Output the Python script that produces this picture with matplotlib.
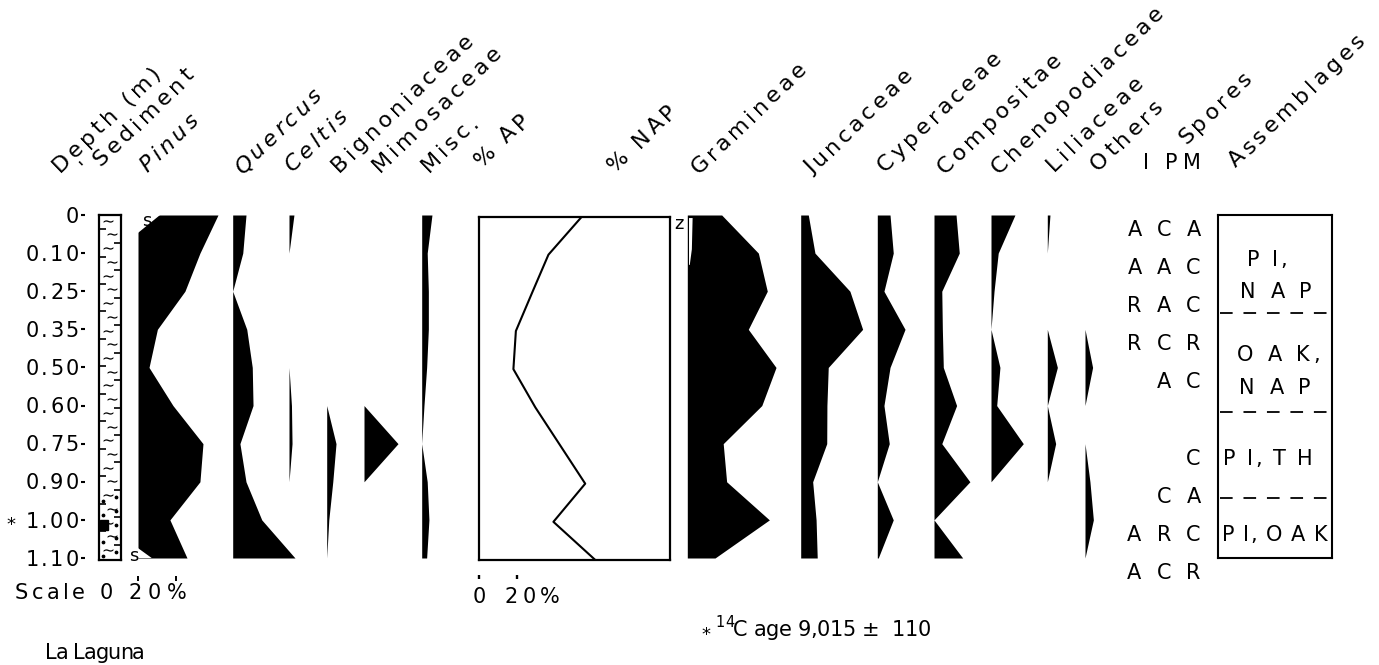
import matplotlib
matplotlib.use("Agg")
import matplotlib.pyplot as plt
import numpy as np
from matplotlib.font_manager import FontProperties, findfont, get_font
from matplotlib.patches import Rectangle

W, H, DPI = 1379, 665, 100
FONT = "DejaVu Sans"
FS = 15
Y_TOP, Y_BOT = 215, 558      # pixel rows of the first and last sample
PX = 1.9                     # pixels per percent, same on every column

# ---------------------------------------------------------------- data
depth_labels = ["0", "0.10", "0.25", "0.35", "0.50", "0.60", "0.75", "0.90", "1.00", "1.10"]
pinus = [42.1, 32.6, 24.7, 10.2, 5.8, 18.4, 34.2, 32.6, 16.8, 25.8]
quercus = [7.0, 5.3, 0, 7.4, 10.3, 10.7, 3.8, 7.0, 15.3, 32.8]
celtis = [2.6, 0, 0, 0, 0, 1.3, 1.6, 0, 0, 0]
bignoniaceae = [0, 0, 0, 0, 0, 0, 4.9, 3.2, 1.1, 0]
mimosaceae = [0, 0, 0, 0, 0, 0, 17.9, 0, 0, 0]
misc = [5.4, 2.9, 3.5, 3.5, 2.6, 1.2, 0, 2.9, 3.8, 2.6]
ap = [53.9, 36.3, 27.7, 19.2, 17.9, 29.4, 42.5, 55.6, 38.9, 60.9]
gramineae = [18.1, 37.4, 42.1, 32.1, 46.7, 39.2, 18.9, 20.7, 43.2, 14.6]
juncaceae = [4.0, 7.5, 25.9, 32.6, 14.5, 13.8, 13.7, 6.3, 8.1, 8.7]
cyperaceae = [6.7, 8.4, 3.5, 14.6, 6.7, 3.5, 6.3, 0, 8.4, 0.5]
compositae = [11.6, 13.3, 4.1, 4.4, 4.9, 11.9, 4.1, 18.9, 0, 15.1]
chenopodiaceae = [12.6, 3.8, 1.6, 0, 4.7, 3.0, 17.0, 0, 0, 0]
liliaceae = [1.4, 0, 0, 0, 5.3, 0, 4.4, 0, 0, 0]
others = [0, 0, 0, 0, 4.0, 0, 0, 2.6, 4.4, 0]

spores = ["A C A", "A A C", "R A C", "R C R", "A C", "", "C", "C A", "A R C", "A C R"]
assemblage_bounds = [2.57, 5.17, 7.43]
assemblage_labels = ["P I,", "N A P", "O A K,", "N A P", "P I, T H", "P I, O A K"]
assemblage_pos = [1.13, 1.97, 3.62, 4.51, 6.35, 8.35]

# white gaps marked "s" (Pinus) and "z" (Gramineae): (percent, sample)
pinus_gap_top = ([0, 11.6, 0], [0, 0, 0.47])
pinus_gap_bot = ([0, 7.2, 0], [8.74, 9, 9])
gram_gap = ([0.9, 2.8, 2.4, 1.3, 0.9], [0.08, 0.08, 0.9, 1.31, 1.31])

scale_ticks = [0, 20]
samples = np.arange(len(depth_labels))

fig = plt.figure(figsize=(W / DPI, H / DPI), dpi=DPI)


# text with letter spacing, like the typeset original; x, y in image pixels
def spaced(x, y, s, size=FS, rot=0, track=4.0, ha="left", va="baseline",
           style="normal", width=None):
    prop = FontProperties(family=FONT, style=style)
    font = get_font(findfont(prop), hinting_factor=1)
    font.set_size(size, DPI)
    adv = [font.load_char(ord(c)).linearHoriAdvance / 65536 for c in s]
    if width is not None and len(s) > 1:
        track = (width - sum(adv)) / (len(s) - 1)
    total = sum(adv) + track * (len(s) - 1)
    th = np.radians(rot)
    X, Y = x, H - y
    if va == "center":
        Y -= 0.729 * size * DPI / 72 / 2
    d = -{"left": 0, "center": total / 2, "right": total}[ha]
    for c, a in zip(s, adv):
        if c != " ":
            fig.text((X + d * np.cos(th)) / W, (Y + d * np.sin(th)) / H, c,
                     fontsize=size, family=FONT, style=style, rotation=rot,
                     rotation_mode="anchor", ha="left", va="baseline")
        d += a + track


def column(left, width):
    ax = fig.add_axes([left / W, 1 - Y_BOT / H, width / W, (Y_BOT - Y_TOP) / H])
    ax.set_xlim(0, width / PX)
    ax.set_ylim(samples[-1], samples[0])
    ax.axis("off")
    return ax


# ---------------------------------------------------------------- sediment column
ax_sed = fig.add_axes([99 / W, 1 - 560 / H, 22 / W, (560 - Y_TOP) / H])
ax_sed.set_xlim(0, 1)
ax_sed.set_ylim(9.05, 0)
ax_sed.set_xticks([])
ax_sed.set_yticks([])
for sp in ax_sed.spines.values():
    sp.set_linewidth(1.6)
for k, r in enumerate(np.arange(0.15, 9.0, 0.36)):
    xs = 0.4 if k % 2 == 0 else 0.58
    ax_sed.scatter([xs], [r], marker="$\\sim$", s=50, color="black", lw=0)
    ax_sed.scatter([0.82 if k % 2 == 0 else 0.2], [r - 0.14], marker="_", s=14,
                   color="black", lw=1.2)
    if r > 7.0:
        ax_sed.scatter([0.2, 0.75], [r + 0.15, r + 0.05], s=3, color="black")
ax_sed.add_patch(Rectangle((0.05, 8.0), 0.36, 0.27, color="black"))
ax_sed.hlines(samples, -0.82, -0.62, transform=ax_sed.get_yaxis_transform(),
              clip_on=False, lw=1.5, color="black")

for i, lab in enumerate(depth_labels):
    y = H - ax_sed.transData.transform((0, samples[i]))[1]
    spaced(79, y, lab, ha="right", va="center", track=2.2)
spaced(6, 530, "*", size=13)

# ---------------------------------------------------------------- pollen columns
columns = [
    (pinus, 138), (quercus, 232.7), (celtis, 289), (bignoniaceae, 326.7),
    (mimosaceae, 364), (misc, 421.7), (gramineae, 687.3), (juncaceae, 800.7),
    (cyperaceae, 877.3), (compositae, 934), (chenopodiaceae, 991),
    (liliaceae, 1047.3), (others, 1085),
]
axes = []
for vals, left in columns:
    ax = column(left, 100)
    ax.fill_betweenx(samples, 0, vals, color="black", lw=0)
    axes.append(ax)

ax_pin, ax_gram = axes[0], axes[6]
ax_pin.fill(*pinus_gap_top, color="white", lw=0)
ax_pin.fill(*pinus_gap_bot, color="white", lw=0)
ax_gram.fill(*gram_gap, color="white", lw=0)
ax_pin.vlines(scale_ticks, -0.053, -0.066, transform=ax_pin.get_xaxis_transform(),
              clip_on=False, lw=1.4, color="black")
spaced(142, 226, "s", size=13)
spaced(129, 561, "s", size=13)
spaced(674, 229, "z", size=13)

# ---------------------------------------------------------------- % AP box
ax_ap = fig.add_axes([479.3 / W, 1 - 560 / H, 190.5 / W, (560 - 216.5) / H])
ax_ap.set_xlim(0, 100)
ax_ap.set_ylim(9, 0)
ax_ap.plot(ap, samples, color="black", lw=1.5)
ax_ap.set_xticks([])
ax_ap.set_yticks([])
for sp in ax_ap.spines.values():
    sp.set_linewidth(1.6)
ax_ap.vlines(scale_ticks, -0.045, -0.055, transform=ax_ap.get_xaxis_transform(),
             clip_on=False, lw=1.7, color="black")

# ---------------------------------------------------------------- assemblages
ax_as = fig.add_axes([1218 / W, 1 - Y_BOT / H, 114 / W, (Y_BOT - Y_TOP) / H])
ax_as.set_xlim(0, 1)
ax_as.set_ylim(9, 0)
ax_as.set_xticks([])
ax_as.set_yticks([])
for sp in ax_as.spines.values():
    sp.set_linewidth(1.5)
ax_as.hlines(assemblage_bounds, 0.02, 0.98, color="black", lw=1.3,
             linestyles=(0, (7, 6)))
as_center = [0.43, 0.51, 0.53, 0.5, 0.44, 0.5]
as_width = [40, 72, 84, 72, 90, 106]
for lab, pos, cx, wd in zip(assemblage_labels, assemblage_pos, as_center, as_width):
    X, Y = ax_as.transData.transform((cx, pos))
    spaced(X, H - Y, lab, ha="center", va="center", width=wd)

for i, s in enumerate(spores):
    if s:
        Y = ax_as.transData.transform((0, samples[i] + 0.35))[1]
        spaced(1201, H - Y, s, ha="right", va="center", track=4.2)

# ---------------------------------------------------------------- headers
headers = [
    ("Depth (m)", 60, 173, "normal"), ("Sediment", 101, 167, "normal"),
    ("Pinus", 147, 173, "italic"), ("Quercus", 242, 175, "italic"),
    ("Celtis", 292, 173, "italic"), ("Bignoniaceae", 339, 173, "normal"),
    ("Mimosaceae", 380, 173, "normal"), ("Misc.", 429, 173, "normal"),
    ("% AP", 482, 168, "normal"), ("% NAP", 615, 173, "normal"),
    ("Gramineae", 699, 175, "normal"), ("Juncaceae", 812, 175, "normal"),
    ("Cyperaceae", 885, 173, "normal"), ("Compositae", 945, 175, "normal"),
    ("Chenopodiaceae", 999, 175, "normal"), ("Liliaceae", 1054, 172, "normal"),
    ("Others", 1098, 172, "normal"), ("Spores", 1186, 145, "normal"),
    ("Assemblages", 1236, 168, "normal"),
]
for txt, x, y, st in headers:
    spaced(x, y, txt, size=16, rot=44, track=3.6, style=st)
spaced(86, 172, "'", size=14, rot=44)
spaced(1143, 169, "I PM", width=58)

# ---------------------------------------------------------------- scales and notes
spaced(15, 599, "Scale", width=70)
spaced(100, 599, "0")
spaced(128, 599, "20%", width=59)
spaced(479, 603, "0", ha="center")
spaced(505, 603, "20%", width=55)
spaced(701, 640, "*", size=13)
spaced(715, 627, "14", size=10.5, track=1)
spaced(733, 636, "C age 9,015 \u00b1  110", width=198)
spaced(45, 659, "La Laguna", width=100)

fig.savefig("out.png", dpi=DPI, facecolor="white")
